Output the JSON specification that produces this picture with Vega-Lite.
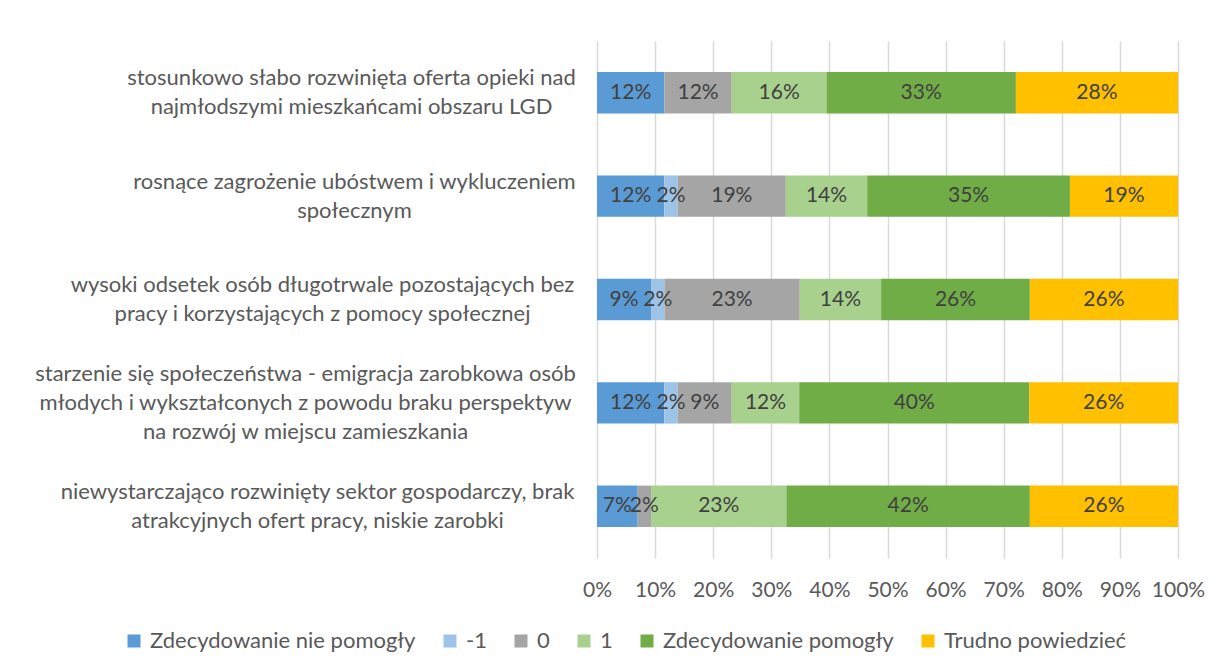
{
  "$schema": "https://vega.github.io/schema/vega-lite/v6.json",
  "autosize": "none",
  "width": 581,
  "height": 517,
  "padding": {"left": 597, "top": 41, "right": 44, "bottom": 112},
  "background": "white",
  "config": {
    "font": "Lato",
    "view": {"stroke": null}
  },
  "data": {
    "values": [
      {"k": "stosunkowo słabo rozwinięta oferta opieki nad|najmłodszymi mieszkańcami obszaru LGD", "s": "Zdecydowanie nie pomogły", "o": 1, "v": 0.116},
      {"k": "stosunkowo słabo rozwinięta oferta opieki nad|najmłodszymi mieszkańcami obszaru LGD", "s": "-1", "o": 2, "v": 0.0},
      {"k": "stosunkowo słabo rozwinięta oferta opieki nad|najmłodszymi mieszkańcami obszaru LGD", "s": "0", "o": 3, "v": 0.116},
      {"k": "stosunkowo słabo rozwinięta oferta opieki nad|najmłodszymi mieszkańcami obszaru LGD", "s": "1", "o": 4, "v": 0.163},
      {"k": "stosunkowo słabo rozwinięta oferta opieki nad|najmłodszymi mieszkańcami obszaru LGD", "s": "Zdecydowanie pomogły", "o": 5, "v": 0.326},
      {"k": "stosunkowo słabo rozwinięta oferta opieki nad|najmłodszymi mieszkańcami obszaru LGD", "s": "Trudno powiedzieć", "o": 6, "v": 0.279},
      {"k": "rosnące zagrożenie ubóstwem i wykluczeniem|społecznym", "s": "Zdecydowanie nie pomogły", "o": 1, "v": 0.116},
      {"k": "rosnące zagrożenie ubóstwem i wykluczeniem|społecznym", "s": "-1", "o": 2, "v": 0.023},
      {"k": "rosnące zagrożenie ubóstwem i wykluczeniem|społecznym", "s": "0", "o": 3, "v": 0.186},
      {"k": "rosnące zagrożenie ubóstwem i wykluczeniem|społecznym", "s": "1", "o": 4, "v": 0.140},
      {"k": "rosnące zagrożenie ubóstwem i wykluczeniem|społecznym", "s": "Zdecydowanie pomogły", "o": 5, "v": 0.349},
      {"k": "rosnące zagrożenie ubóstwem i wykluczeniem|społecznym", "s": "Trudno powiedzieć", "o": 6, "v": 0.186},
      {"k": "wysoki odsetek osób długotrwale pozostających bez|pracy i korzystających z pomocy społecznej", "s": "Zdecydowanie nie pomogły", "o": 1, "v": 0.093},
      {"k": "wysoki odsetek osób długotrwale pozostających bez|pracy i korzystających z pomocy społecznej", "s": "-1", "o": 2, "v": 0.023},
      {"k": "wysoki odsetek osób długotrwale pozostających bez|pracy i korzystających z pomocy społecznej", "s": "0", "o": 3, "v": 0.233},
      {"k": "wysoki odsetek osób długotrwale pozostających bez|pracy i korzystających z pomocy społecznej", "s": "1", "o": 4, "v": 0.140},
      {"k": "wysoki odsetek osób długotrwale pozostających bez|pracy i korzystających z pomocy społecznej", "s": "Zdecydowanie pomogły", "o": 5, "v": 0.256},
      {"k": "wysoki odsetek osób długotrwale pozostających bez|pracy i korzystających z pomocy społecznej", "s": "Trudno powiedzieć", "o": 6, "v": 0.255},
      {"k": "starzenie się społeczeństwa - emigracja zarobkowa osób|młodych i wykształconych z powodu braku perspektyw|na rozwój w miejscu zamieszkania", "s": "Zdecydowanie nie pomogły", "o": 1, "v": 0.116},
      {"k": "starzenie się społeczeństwa - emigracja zarobkowa osób|młodych i wykształconych z powodu braku perspektyw|na rozwój w miejscu zamieszkania", "s": "-1", "o": 2, "v": 0.023},
      {"k": "starzenie się społeczeństwa - emigracja zarobkowa osób|młodych i wykształconych z powodu braku perspektyw|na rozwój w miejscu zamieszkania", "s": "0", "o": 3, "v": 0.093},
      {"k": "starzenie się społeczeństwa - emigracja zarobkowa osób|młodych i wykształconych z powodu braku perspektyw|na rozwój w miejscu zamieszkania", "s": "1", "o": 4, "v": 0.116},
      {"k": "starzenie się społeczeństwa - emigracja zarobkowa osób|młodych i wykształconych z powodu braku perspektyw|na rozwój w miejscu zamieszkania", "s": "Zdecydowanie pomogły", "o": 5, "v": 0.396},
      {"k": "starzenie się społeczeństwa - emigracja zarobkowa osób|młodych i wykształconych z powodu braku perspektyw|na rozwój w miejscu zamieszkania", "s": "Trudno powiedzieć", "o": 6, "v": 0.256},
      {"k": "niewystarczająco rozwinięty sektor gospodarczy, brak|atrakcyjnych ofert pracy, niskie zarobki", "s": "Zdecydowanie nie pomogły", "o": 1, "v": 0.070},
      {"k": "niewystarczająco rozwinięty sektor gospodarczy, brak|atrakcyjnych ofert pracy, niskie zarobki", "s": "-1", "o": 2, "v": 0.0},
      {"k": "niewystarczająco rozwinięty sektor gospodarczy, brak|atrakcyjnych ofert pracy, niskie zarobki", "s": "0", "o": 3, "v": 0.023},
      {"k": "niewystarczająco rozwinięty sektor gospodarczy, brak|atrakcyjnych ofert pracy, niskie zarobki", "s": "1", "o": 4, "v": 0.233},
      {"k": "niewystarczająco rozwinięty sektor gospodarczy, brak|atrakcyjnych ofert pracy, niskie zarobki", "s": "Zdecydowanie pomogły", "o": 5, "v": 0.419},
      {"k": "niewystarczająco rozwinięty sektor gospodarczy, brak|atrakcyjnych ofert pracy, niskie zarobki", "s": "Trudno powiedzieć", "o": 6, "v": 0.255}
    ]
  },
  "transform": [
    {"stack": "v", "groupby": ["k"], "sort": [{"field": "o", "order": "ascending"}], "as": ["x0", "x1"]},
    {"calculate": "(datum.x0 + datum.x1) / 2", "as": "xm"}
  ],
  "encoding": {
    "y": {
      "field": "k",
      "type": "nominal",
      "sort": null,
      "scale": {"paddingInner": 0.6, "paddingOuter": 0.3},
      "axis": {
        "title": null,
        "domain": false,
        "ticks": false,
        "labelExpr": "split(datum.label, '|')",
        "labelFontSize": 22,
        "labelColor": "#595959",
        "labelLineHeight": 29,
        "labelLimit": 700,
        "labelAlign": "center",
        "labelBaseline": "middle",
        "labelPadding": {
          "condition": [
            {"test": "indexof(datum.value, 'stosunkowo') == 0", "value": 246},
            {"test": "indexof(datum.value, 'rosnące') == 0", "value": 243},
            {"test": "indexof(datum.value, 'wysoki') == 0", "value": 275},
            {"test": "indexof(datum.value, 'starzenie') == 0", "value": 292},
            {"test": "indexof(datum.value, 'niewystarczająco') == 0", "value": 280}
          ],
          "value": 22
        },
        "labelOffset": {
          "condition": [
            {"test": "length(split(datum.value, '|')) == 3", "value": -29},
            {"test": "length(split(datum.value, '|')) == 2", "value": -14.5}
          ],
          "value": 0
        }
      }
    }
  },
  "layer": [
    {
      "mark": {"type": "bar"},
      "encoding": {
        "x": {
          "field": "x0",
          "type": "quantitative",
          "scale": {"domain": [0, 1], "nice": false, "clamp": true},
          "axis": {
            "title": null,
            "format": ".0%",
            "values": [0, 0.1, 0.2, 0.3, 0.4, 0.5, 0.6, 0.7, 0.8, 0.9, 1],
            "domain": false,
            "ticks": false,
            "grid": true,
            "gridColor": "#d9d9d9",
            "gridWidth": 1.5,
            "labelFontSize": 21,
            "labelColor": "#595959",
            "labelPadding": 21,
            "labelFlush": false
          }
        },
        "x2": {"field": "x1"},
        "color": {
          "field": "s",
          "type": "nominal",
          "scale": {
            "domain": ["Zdecydowanie nie pomogły", "-1", "0", "1", "Zdecydowanie pomogły", "Trudno powiedzieć"],
            "range": ["#5B9BD5", "#9DC3E6", "#A5A5A5", "#A9D18E", "#70AD47", "#FFC000"]
          },
          "legend": {
            "title": null,
            "orient": "none",
            "direction": "horizontal",
            "columns": 6,
            "legendX": -474,
            "legendY": 589,
            "symbolType": "square",
            "symbolSize": 169,
            "symbolStrokeWidth": 0,
            "labelFontSize": 22,
            "labelColor": "#595959",
            "labelOffset": 5,
            "columnPadding": 23,
            "labelLimit": 400
          }
        }
      }
    },
    {
      "transform": [{"filter": "datum.v > 0"}],
      "mark": {"type": "text", "fontSize": 21, "color": "#404040", "align": "center", "baseline": "middle"},
      "encoding": {
        "x": {"field": "xm", "type": "quantitative"},
        "text": {"field": "v", "type": "quantitative", "format": ".0%"}
      }
    }
  ]
}
